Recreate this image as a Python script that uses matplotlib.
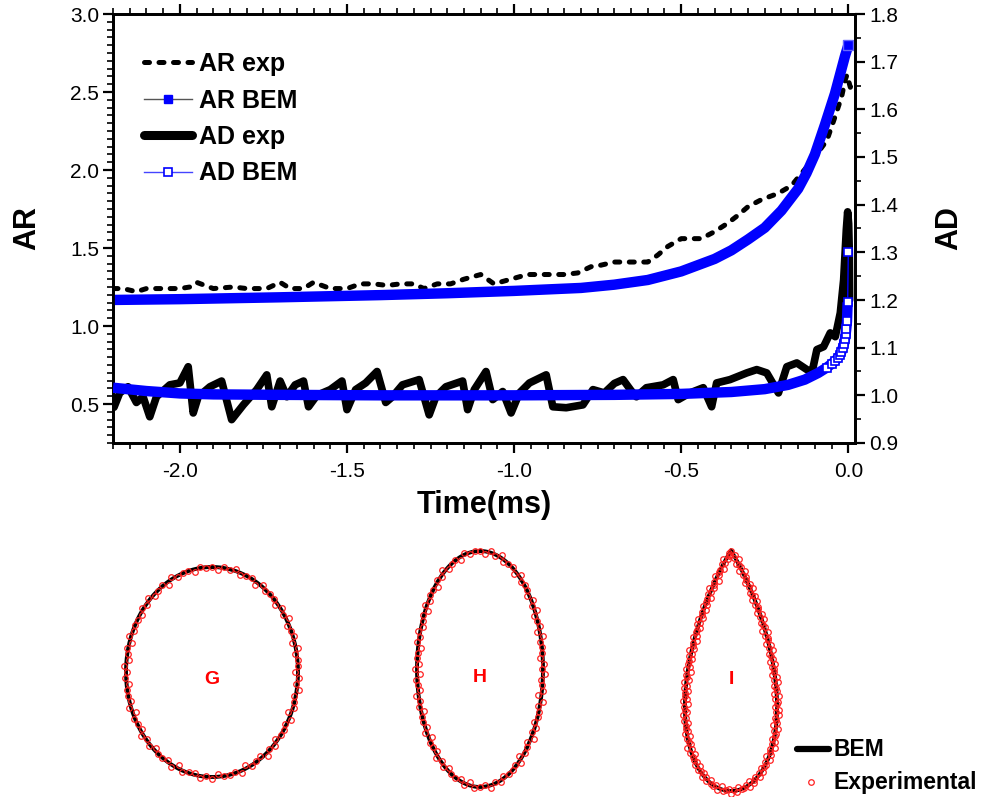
import numpy as np
import matplotlib
matplotlib.use("Agg")
import matplotlib.pyplot as plt
from matplotlib.lines import Line2D
from matplotlib.ticker import MultipleLocator, FormatStrFormatter

plt.rcParams['font.family'] = ['Liberation Sans', 'DejaVu Sans']
plt.rcParams['axes.unicode_minus'] = False

# ---------------- time series ----------------
ar_exp_t = [-2.20, -2.17, -2.13, -2.10, -2.06, -2.00, -1.97, -1.95, -1.90, -1.84,
            -1.80, -1.74, -1.70, -1.67, -1.63, -1.60, -1.55, -1.50, -1.46, -1.42,
            -1.38, -1.34, -1.30, -1.27, -1.23, -1.19, -1.15, -1.10, -1.06, -1.01,
            -0.96, -0.90, -0.85, -0.81, -0.77, -0.74, -0.70, -0.65, -0.60, -0.57,
            -0.54, -0.50, -0.44, -0.40, -0.36, -0.33, -0.30, -0.26, -0.21, -0.17,
            -0.124, -0.10, -0.064, -0.04, -0.02, -0.009, -0.004, 0.006, 0.012]
ar_exp = [1.24, 1.24, 1.22, 1.24, 1.24, 1.24, 1.25, 1.28, 1.24, 1.25,
          1.24, 1.24, 1.28, 1.24, 1.24, 1.28, 1.24, 1.24, 1.27, 1.27,
          1.26, 1.27, 1.27, 1.24, 1.27, 1.27, 1.30, 1.33, 1.27, 1.30,
          1.33, 1.33, 1.33, 1.34, 1.38, 1.39, 1.41, 1.41, 1.41, 1.455,
          1.51, 1.56, 1.56, 1.605, 1.66, 1.71, 1.765, 1.81, 1.85, 1.90,
          2.02, 2.085, 2.19, 2.34, 2.47, 2.58, 2.61, 2.53, 2.55]

ar_bem_t = [-2.2, -2.0, -1.7, -1.4, -1.2, -1.0, -0.8, -0.7, -0.6, -0.5, -0.4,
            -0.35, -0.3, -0.25, -0.2, -0.15, -0.125, -0.1, -0.07, -0.055, -0.04,
            -0.03, -0.02, -0.01, 0.0]
ar_bem = [1.167, 1.172, 1.184, 1.198, 1.21, 1.225, 1.244, 1.265, 1.295, 1.35, 1.43,
          1.485, 1.555, 1.63, 1.74, 1.88, 1.98, 2.10, 2.29, 2.39, 2.49,
          2.57, 2.65, 2.73, 2.80]

ad_exp_t = [-2.197, -2.18, -2.155, -2.13, -2.11, -2.09, -2.07, -2.03, -2.00, -1.975,
            -1.96, -1.945, -1.91, -1.875, -1.845, -1.81, -1.77, -1.74, -1.725, -1.70,
            -1.68, -1.655, -1.63, -1.615, -1.59, -1.55, -1.515, -1.50, -1.474, -1.444,
            -1.41, -1.384, -1.364, -1.334, -1.284, -1.254, -1.234, -1.204, -1.154, -1.139,
            -1.119, -1.084, -1.064, -1.034, -1.009, -0.984, -0.954, -0.904, -0.884, -0.844,
            -0.794, -0.764, -0.73, -0.70, -0.674, -0.65, -0.634, -0.604, -0.554, -0.524,
            -0.509, -0.474, -0.434, -0.409, -0.394, -0.354, -0.304, -0.274, -0.244, -0.209,
            -0.184, -0.154, -0.124, -0.109, -0.094, -0.074, -0.054, -0.039, -0.024, -0.014,
            -0.006, -0.002, 0.001, 0.003, 0.004]
ad_exp = [0.975, 1.005, 1.018, 0.985, 0.997, 0.955, 0.997, 1.022, 1.026, 1.06,
          0.963, 0.997, 1.018, 1.03, 0.949, 0.98, 1.012, 1.043, 0.976, 1.03,
          0.997, 1.022, 1.03, 0.976, 1.0, 1.012, 1.03, 0.97, 1.012, 1.026,
          1.05, 0.985, 0.997, 1.022, 1.033, 0.959, 0.997, 1.018, 1.03, 0.97,
          1.012, 1.05, 0.991, 1.008, 0.963, 1.005, 1.026, 1.043, 0.976, 0.974,
          0.98, 1.012, 1.005, 1.025, 1.033, 1.01, 0.997, 1.016, 1.022, 1.033,
          0.991, 1.005, 1.016, 0.976, 1.026, 1.033, 1.047, 1.054, 1.047, 1.005,
          1.06, 1.068, 1.054, 1.047, 1.096, 1.102, 1.131, 1.123, 1.173, 1.242,
          1.347, 1.385, 1.36, 1.30, 1.20]

ad_bem_t = [-2.2, -2.1, -2.0, -1.9, -1.7, -1.4, -1.0, -0.7, -0.5, -0.35, -0.25,
            -0.18, -0.13, -0.09, -0.065, -0.05, -0.04, -0.032, -0.026, -0.021,
            -0.017, -0.013, -0.010, -0.008, -0.006, -0.004, -0.002, 0.0]
ad_bem = [1.016, 1.009, 1.004, 1.002, 1.001, 1.0, 1.0, 1.001, 1.003, 1.007, 1.013,
          1.022, 1.033, 1.047, 1.058, 1.066, 1.072, 1.078, 1.084, 1.091,
          1.099, 1.108, 1.118, 1.128, 1.140, 1.155, 1.195, 1.300]

x_ticks = [-2.0, -1.5, -1.0, -0.5, 0.0]
ar_ticks = [0.5, 1.0, 1.5, 2.0, 2.5, 3.0]
ad_ticks = [0.9, 1.0, 1.1, 1.2, 1.3, 1.4, 1.5, 1.6, 1.7, 1.8]

# ---------------- droplet outlines (pixel units of the lower panel) ----------------
shape_labels = ['G', 'H', 'I']
shape_cx = [212, 480, 731]
shape_cy = [672, 669, 671]
shape_half_w = [86, 63, 58]
shape_half_h = [105, 118, 120]
shape_kind = ['ellipse', 'ellipse', 'drop']
exp_counts = [100, 108, 200]
exp_offsets = [0.0, 2.5, -1.5, 1.0, -2.5, 2.0, 0.5, -1.0, 3.0, -2.0, 1.5, -0.5]

BLUE = '#0000ff'
RED = '#ff2020'

W, H = 1002, 797
fig = plt.figure(figsize=(W / 100, H / 100), dpi=100)
ax = fig.add_axes([113 / W, 1 - 443 / H, (855 - 113) / W, (443 - 14) / H])
ax2 = ax.twinx()

# AR (left axis)
ax.plot(ar_exp_t, ar_exp, color='black', lw=3.6, linestyle=(0, (1.0, 1.9)),
        dash_capstyle='round', zorder=2)
ax.plot(ar_bem_t, ar_bem, color=BLUE, lw=7.5, solid_capstyle='butt', zorder=3)
ax.plot(ar_bem_t[-1:], ar_bem[-1:], 's', ms=7, color=BLUE, mec='#6666ff', mew=1, zorder=4)

# AD (right axis)
ax2.plot(ad_exp_t, ad_exp, color='black', lw=5.5, solid_joinstyle='round',
         solid_capstyle='round', zorder=2)
ax2.plot(ad_bem_t[:-1], ad_bem[:-1], color=BLUE, lw=7.5, solid_capstyle='butt', zorder=3)
ax2.plot(ad_bem_t[-2:], ad_bem[-2:], color=BLUE, lw=1.0, zorder=3)
ax2.plot(ad_bem_t[-14:], ad_bem[-14:], 's', ms=6, mfc='white', mec=BLUE, mew=1.2,
         linestyle='none', zorder=4)

ax.set_xlim(-2.2, 0.02)
ax.set_ylim(0.25, 3.0)
ax2.set_ylim(0.9, 1.8)

ax.set_xticks(x_ticks)
ax.set_yticks(ar_ticks)
ax2.set_yticks(ad_ticks)
ax.xaxis.set_minor_locator(MultipleLocator(0.05))
ax.yaxis.set_minor_locator(MultipleLocator(0.05))
ax2.yaxis.set_minor_locator(MultipleLocator(0.05))
ax.xaxis.set_major_formatter(FormatStrFormatter('%.1f'))
ax.yaxis.set_major_formatter(FormatStrFormatter('%.1f'))
ax2.yaxis.set_major_formatter(FormatStrFormatter('%.1f'))

for a in (ax, ax2):
    for s in a.spines.values():
        s.set_linewidth(2.0)
    a.tick_params(which='major', direction='out', length=7, width=1.6, labelsize=15, pad=3)
    a.tick_params(which='minor', direction='out', length=4, width=1.2)
ax.tick_params(axis='x', which='major', pad=7)
ax.tick_params(axis='x', which='both', top=True)
ax.tick_params(axis='y', which='both', right=False)

ax.set_xlabel('Time(ms)', fontsize=22, fontweight='bold', labelpad=6)
ax.set_ylabel('AR', fontsize=22, fontweight='bold', labelpad=20)
ax2.set_ylabel('AD', fontsize=22, fontweight='bold', labelpad=26)

handles = [
    Line2D([], [], color='black', lw=3.6, linestyle=(0, (1.0, 1.9)), dash_capstyle='round'),
    Line2D([], [], color='#555555', lw=1.0, marker='s', ms=6, mfc=BLUE, mec=BLUE),
    Line2D([], [], color='black', lw=6.5, solid_capstyle='round'),
    Line2D([], [], color='#4444ff', lw=1.0, marker='s', ms=6, mfc='white', mec=BLUE, mew=1.2),
]
leg = ax.legend(handles, ['AR exp', 'AR BEM', 'AD exp', 'AD BEM'],
                loc='upper left', bbox_to_anchor=(134 / W, 1 - 42 / H),
                bbox_transform=fig.transFigure, frameon=False,
                prop={'size': 18, 'weight': 'bold'}, handlelength=1.9,
                handletextpad=0.3, labelspacing=0.5, borderaxespad=0)

# ---------------- lower panel: droplet outlines ----------------
axo = fig.add_axes([0, 0, 1, 1])
axo.set_xlim(0, W)
axo.set_ylim(H, 0)
axo.axis('off')


def outline(kind, cx, cy, a, b, n):
    th = np.linspace(0, 2 * np.pi, n, endpoint=False)
    if kind == 'ellipse':
        x = cx + a * np.sin(th)
        y = cy - b * np.cos(th)
    else:
        # teardrop: pointed apex on top, rounded bottom
        x = cx + a * np.sin(th) * np.sin(th / 2) ** 0.85
        y = cy - b * np.cos(th)
    return x, y


def resample(x, y, n):
    """Evenly spaced points along a closed outline."""
    xc, yc = np.append(x, x[0]), np.append(y, y[0])
    seg = np.hypot(np.diff(xc), np.diff(yc))
    s = np.concatenate([[0], np.cumsum(seg)])
    st = np.linspace(0, s[-1], n, endpoint=False)
    return np.interp(st, s, xc), np.interp(st, s, yc)


for lab, cx, cy, a, b, kind, n in zip(shape_labels, shape_cx, shape_cy, shape_half_w,
                                       shape_half_h, shape_kind, exp_counts):
    xs, ys = outline(kind, cx, cy, a, b, 1200)
    axo.plot(np.append(xs, xs[0]), np.append(ys, ys[0]), color='black', lw=2.8, zorder=2)
    xe, ye = resample(xs, ys, n)
    # outward normal from neighbouring points
    dx = np.roll(xe, -1) - np.roll(xe, 1)
    dy = np.roll(ye, -1) - np.roll(ye, 1)
    nrm = np.hypot(dx, dy)
    nx, ny = dy / nrm, -dx / nrm
    off = np.array([exp_offsets[i % len(exp_offsets)] for i in range(n)])
    axo.plot(xe - nx * off, ye - ny * off, 'o', ms=4.0, mfc='none', mec=RED,
             mew=0.9, zorder=3)
    axo.text(cx, cy + 8, lab, color='#ff0000', fontsize=14, fontweight='bold',
             ha='center', va='center')

# outline legend
axo.plot([797, 829], [749, 749], color='black', lw=4.5, solid_capstyle='round')
axo.plot([811], [782], 'o', ms=4.0, mfc='none', mec=RED, mew=0.9)
axo.text(834, 749, 'BEM', fontsize=16.5, fontweight='bold', va='center', ha='left')
axo.text(834, 782, 'Experimental', fontsize=16.5, fontweight='bold', va='center', ha='left')

fig.savefig('out.png', dpi=100)
